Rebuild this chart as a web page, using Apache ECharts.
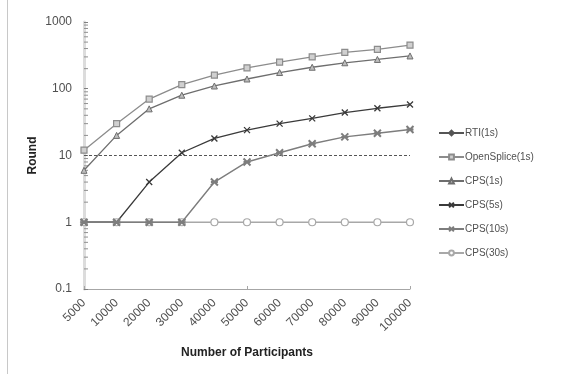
<!DOCTYPE html>
<html>
<head>
<meta charset="utf-8">
<script src="https://cdn.jsdelivr.net/npm/echarts@6/dist/echarts.min.js"></script>
<style>
  html, body { margin: 0; padding: 0; background: #fff; }
  #chart { width: 561px; height: 374px; }
</style>
</head>
<body>
<div id="chart"></div>
<script>
// Participant counts on the x axis
const participants = ['5000', '10000', '20000', '30000', '40000', '50000',
  '60000', '70000', '80000', '90000', '100000'];

// Rounds per protocol / period
const rti1s = [10, 10, 10, 10, 10, 10, 10, 10, 10, 10, 10];
const openSplice1s = [12, 30, 70, 115, 160, 205, 250, 300, 350, 390, 450];
const cps1s = [6, 20, 50, 80, 110, 140, 175, 210, 245, 275, 310];
const cps5s = [1, 1, 4, 11, 18, 24, 30, 36, 44, 51, 58];
const cps10s = [1, 1, 1, 1, 4, 8, 11, 15, 19, 21.5, 24.5];
const cps30s = [1, 1, 1, 1, 1, 1, 1, 1, 1, 1, 1];

// Log-scale minor tick values (2..9 in each decade)
const minorTickValues = [];
for (let e = -1; e < 3; e++) {
  for (let m = 2; m <= 9; m++) minorTickValues.push(m * Math.pow(10, e));
}

const font = 'Liberation Sans';
const chart = echarts.init(document.getElementById('chart'), null, { renderer: 'canvas' });

function lineSeries(name, data, color, symbol, size, extra) {
  return Object.assign({
    name: name,
    type: 'line',
    data: data,
    symbol: symbol,
    symbolSize: size,
    color: color,
    lineStyle: { color: color, width: 1.3 },
    itemStyle: { color: color, borderColor: color, borderWidth: 1 },
    emphasis: { disabled: true },
    animation: false,
    z: 3
  }, extra || {});
}

chart.setOption({
  backgroundColor: '#fff',
  animation: false,
  grid: { left: 84, right: 151, top: 22, bottom: 85, containLabel: false },
  graphic: [{
    type: 'line',
    shape: { x1: 7.5, y1: 0, x2: 7.5, y2: 374 },
    style: { stroke: '#c8c8c8', lineWidth: 1 }
  }],
  legend: {
    orient: 'vertical',
    left: 433,
    top: 123,
    itemWidth: 25,
    itemHeight: 6,
    itemGap: 14,
    textStyle: { fontFamily: font, fontSize: 10, color: '#505050', padding: [0, 0, 0, -4] },
    data: [
      { name: 'RTI(1s)', lineStyle: { type: 'solid' } },
      'OpenSplice(1s)', 'CPS(1s)', 'CPS(5s)', 'CPS(10s)', 'CPS(30s)'
    ]
  },
  xAxis: {
    type: 'category',
    data: participants,
    boundaryGap: false,
    name: 'Number of Participants',
    nameLocation: 'middle',
    nameGap: 58,
    nameTextStyle: { fontFamily: font, fontSize: 12, fontWeight: 'bold', color: '#222' },
    axisLine: { lineStyle: { color: '#a6a6a6', width: 1 } },
    axisTick: { inside: true, interval: 4, length: 3, lineStyle: { color: '#a6a6a6' } },
    axisLabel: {
      rotate: 45, interval: 0, margin: 12,
      fontFamily: font, fontSize: 12, color: '#505050'
    },
    splitLine: { show: false }
  },
  yAxis: {
    type: 'log',
    logBase: 10,
    min: 0.1,
    max: 1000,
    name: 'Round',
    nameLocation: 'middle',
    nameGap: 45,
    nameMoveOverlap: false,
    nameRotate: 90,
    nameTextStyle: { fontFamily: font, fontSize: 12, fontWeight: 'bold', color: '#222' },
    axisLine: { show: true, lineStyle: { color: '#dcdcdc', width: 3 } },
    axisTick: { show: true, inside: true, length: 4, lineStyle: { color: '#808080' } },
    axisLabel: {
      margin: 12, fontFamily: font, fontSize: 12, color: '#505050',
      formatter: function (v) { return String(v); }
    },
    splitLine: { show: false }
  },
  series: [
    {
      name: 'minor',
      type: 'custom',
      data: minorTickValues,
      silent: true,
      z: 1,
      renderItem: function (params, api) {
        const p = api.coord([0, api.value(0)]);
        return {
          type: 'line',
          shape: { x1: p[0], y1: p[1], x2: p[0] + 4, y2: p[1] },
          style: { stroke: '#909090', lineWidth: 1 }
        };
      },
      encode: { y: 0 }
    },
    lineSeries('RTI(1s)', rti1s, '#555555', 'diamond', 5, {
      showSymbol: false,
      lineStyle: { color: '#555555', width: 1, type: [3, 2] },
      z: 2
    }),
    lineSeries('OpenSplice(1s)', openSplice1s, '#8c8c8c', 'rect', 6, {
      itemStyle: { color: '#d0d0d0', borderColor: '#8c8c8c', borderWidth: 1.2 }
    }),
    lineSeries('CPS(1s)', cps1s, '#6e6e6e', 'triangle', 6, {
      itemStyle: { color: '#bdbdbd', borderColor: '#6e6e6e', borderWidth: 1 }
    }),
    lineSeries('CPS(5s)', cps5s, '#3a3a3a', 'path://M0,0L10,10M10,0L0,10', 6, {
      itemStyle: { color: 'none', borderColor: '#3a3a3a', borderWidth: 1.3 }
    }),
    lineSeries('CPS(10s)', cps10s, '#7d7d7d', 'path://M0,0L10,10M10,0L0,10M0,5L10,5', 7, {
      lineStyle: { color: '#7d7d7d', width: 1.4 },
      itemStyle: { color: 'none', borderColor: '#7d7d7d', borderWidth: 2 },
      z: 4
    }),
    lineSeries('CPS(30s)', cps30s, '#a8a8a8', 'circle', 7, {
      itemStyle: { color: '#ffffff', borderColor: '#a8a8a8', borderWidth: 1.2 },
      z: 2
    })
  ]
});
</script>
</body>
</html>
